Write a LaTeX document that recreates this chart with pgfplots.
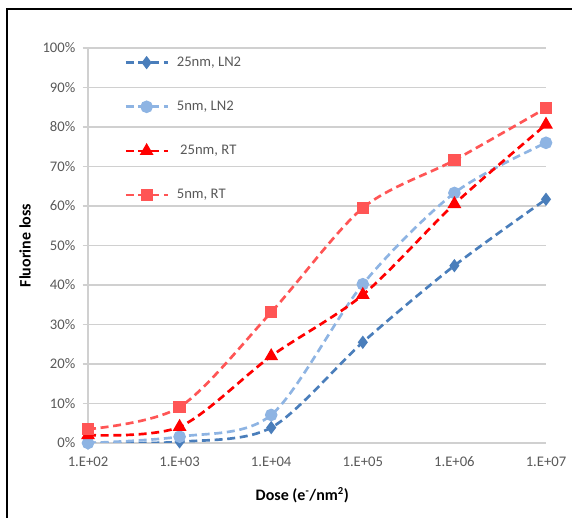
\documentclass[border=0pt]{standalone}
\usepackage{pgfplots}
\pgfplotsset{compat=1.18}
\usepackage{fontspec}
\setmainfont{Carlito}
\definecolor{cA}{HTML}{4A7EBB}
\definecolor{cB}{HTML}{8EB4E3}
\definecolor{cC}{HTML}{FF0000}
\definecolor{cD}{HTML}{FF5555}
\definecolor{tickgrey}{HTML}{595959}
\definecolor{gridgrey}{HTML}{D0D0D0}
\begin{document}
\begin{tikzpicture}
\useasboundingbox (-66pt,-56.25pt) rectangle (363pt,332.25pt);
\draw[line width=1.6pt,black] (-60.75pt,-60pt) -- (-60.75pt,325.5pt) -- (370pt,325.5pt);
\begin{axis}[
  scale only axis,
  width=343.5pt, height=296.25pt,
  xmode=log,
  xmin=100, xmax=1e7,
  ymin=0, ymax=100,
  xtick={1e2,1e3,1e4,1e5,1e6,1e7},
  xticklabels={1.E+02,1.E+03,1.E+04,1.E+05,1.E+06,1.E+07},
  ytick={0,10,...,100},
  yticklabel={\pgfmathprintnumber{\tick}\%},
  /pgf/number format/assume math mode=true,
  axis x line*=bottom, axis y line*=left,
  axis line style={gridgrey, line width=0.9pt, -},
  ymajorgrids, grid style={gridgrey, line width=0.9pt},
  x tick style={draw=none},
  y tick style={gridgrey, line width=0.9pt},
  tick align=outside, major tick length=4pt,
  minor tick num=0,
  tick label style={font=\fontsize{11}{13}\selectfont, text=tickgrey},
  xticklabel style={yshift=-3pt},
  yticklabel style={xshift=-2pt},
  xlabel={\textbf{Dose (e\textsuperscript{-}/nm\textsuperscript{2})}},
  ylabel={\textbf{Fluorine loss}},
  label style={font=\fontsize{12}{14}\selectfont, text=black},
  xlabel style={at={(axis description cs:0.468,-0.132)}, anchor=center},
  ylabel style={at={(axis description cs:-0.1376,0.5)}, anchor=center, rotate=0},
  legend style={at={(axis description cs:0.079,0.985)}, anchor=north west, draw=none, fill=none,
    font=\fontsize{11}{13}\selectfont, text=tickgrey, row sep=20.5pt, column sep=4pt, inner sep=0pt},
  legend cell align=left,
  legend image code/.code={\draw[#1, mark repeat=2, mark phase=2] plot coordinates {(0cm,0cm)(0.55cm,0cm)(1.1cm,0cm)};},
  every axis plot/.append style={line width=2pt, dash pattern=on 6pt off 3.5pt, smooth, tension=0.5},
]
\addplot[cA, mark=diamond*, mark size=3.4pt, mark options={solid, fill=cA}] coordinates {
 (1e2,0) (1e3,0.3) (1e4,3.9) (1e5,25.5) (1e6,44.9) (1e7,61.7)};
\addlegendentry{25nm, LN2}
\addplot[cB, mark=*, mark size=3.7pt, mark options={solid, fill=cB}] coordinates {
 (1e2,0) (1e3,1.6) (1e4,7.1) (1e5,40.2) (1e6,63.3) (1e7,76)};
\addlegendentry{5nm, LN2}
\addplot[cC, mark=triangle*, mark size=4pt, mark options={solid, fill=cC}] coordinates {
 (1e2,2) (1e3,4.1) (1e4,22) (1e5,37.5) (1e6,60.5) (1e7,80.6)};
\addlegendentry{\ 25nm, RT}
\addplot[cD, mark=square*, mark size=3.6pt, mark options={solid, fill=cD}] coordinates {
 (1e2,3.5) (1e3,9.1) (1e4,33.1) (1e5,59.5) (1e6,71.6) (1e7,84.8)};
\addlegendentry{5nm, RT}
\end{axis}
\end{tikzpicture}
\end{document}
